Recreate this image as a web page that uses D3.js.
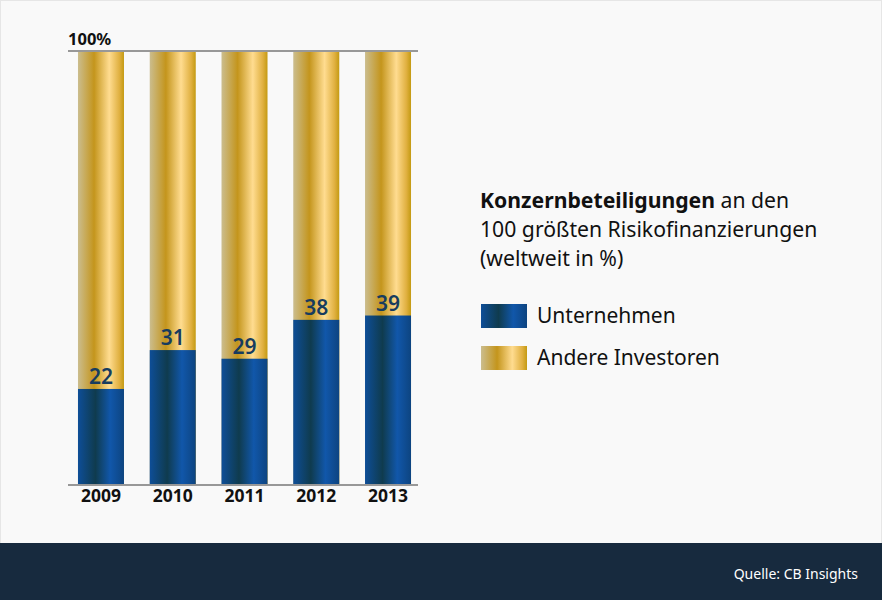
<!DOCTYPE html>
<html>
<head>
<meta charset="utf-8">
<script src="https://cdn.jsdelivr.net/npm/d3@7"></script>
<style>
  body { margin: 0; background: #fff; }
  svg { font-family: "Noto Sans", sans-serif; }
</style>
</head>
<body>
<div id="chart"></div>
<script>
var years = ["2009", "2010", "2011", "2012", "2013"];
var unternehmen = [22, 31, 29, 38, 39];
var legendLabels = ["Unternehmen", "Andere Investoren"];

var width = 882, height = 600;
var svg = d3.select('#chart').append('svg')
  .attr('width', width)
  .attr('height', height);

// gradients
var defs = svg.append('defs');
var blue = defs.append('linearGradient').attr('id', 'blue');
[[0, '#0e4e98'], [0.38, '#0f3b4e'], [0.7, '#1157aa'], [1, '#0d4480']].forEach(function (s) {
  blue.append('stop').attr('offset', s[0]).attr('stop-color', s[1]);
});
var gold = defs.append('linearGradient').attr('id', 'gold');
[[0, '#cbbd8e'], [0.35, '#c4951c'], [0.68, '#ffdc90'], [0.9, '#e0b040'], [1, '#c49a12']].forEach(function (s) {
  gold.append('stop').attr('offset', s[0]).attr('stop-color', s[1]);
});

svg.append('rect')
  .attr('x', 0.5).attr('y', 0.5)
  .attr('width', width - 1).attr('height', 543)
  .attr('fill', '#f9f9f9')
  .attr('stroke', '#e6e6e6');

svg.append('rect')
  .attr('x', 0).attr('y', 543)
  .attr('width', width).attr('height', height - 543)
  .attr('fill', '#172a3e');

svg.append('text')
  .attr('x', 858).attr('y', 579)
  .attr('text-anchor', 'end')
  .attr('fill', '#fff')
  .attr('font-size', 14)
  .text('Quelle: CB Insights');

var xScale = d3.scaleBand()
  .domain(years)
  .range([68, 421])
  .paddingInner(0.359)
  .paddingOuter(0.139);

var yScale = d3.scaleLinear()
  .domain([0, 100])
  .range([484, 52]);

var g = svg.append('g');

// gold (100%)
g.selectAll('.other')
  .data(years)
  .enter().append('rect')
  .attr('class', 'other')
  .attr('x', function (d) { return xScale(d); })
  .attr('y', yScale(100))
  .attr('width', xScale.bandwidth())
  .attr('height', yScale(0) - yScale(100))
  .attr('fill', 'url(#gold)');

g.selectAll('.corp')
  .data(unternehmen)
  .enter().append('rect')
  .attr('class', 'corp')
  .attr('x', function (d, i) { return xScale(years[i]); })
  .attr('y', function (d) { return yScale(d); })
  .attr('width', xScale.bandwidth())
  .attr('height', function (d) { return yScale(0) - yScale(d); })
  .attr('fill', 'url(#blue)');

g.selectAll('.val')
  .data(unternehmen)
  .enter().append('text')
  .attr('class', 'val')
  .attr('x', function (d, i) { return xScale(years[i]) + xScale.bandwidth() / 2; })
  .attr('y', function (d) { return yScale(d) - 5; })
  .attr('text-anchor', 'middle')
  .attr('fill', '#173c5e')
  .attr('font-size', 21)
  .attr('font-weight', 600)
  .text(function (d) { return d; });

// lines
[0, 100].forEach(function (v) {
  svg.append('line')
    .attr('x1', 68).attr('x2', 418)
    .attr('y1', yScale(v) + (v === 0 ? 1 : -1))
    .attr('y2', yScale(v) + (v === 0 ? 1 : -1))
    .attr('stroke', '#777')
    .attr('stroke-width', 1.5);
});

var xAxis = d3.axisBottom(xScale).tickSize(0).tickPadding(0);
svg.append('g')
  .attr('transform', 'translate(0,' + 490 + ')')
  .call(xAxis)
  .call(function (a) { a.select('.domain').remove(); })
  .selectAll('text')
  .attr('dy', '0.71em')
  .attr('font-family', '"Noto Sans", sans-serif')
  .attr('font-size', 17.5)
  .attr('font-weight', 'bold')
  .attr('fill', '#111');

svg.append('text')
  .attr('x', 68).attr('y', 45)
  .attr('font-size', 16.5)
  .attr('font-weight', 'bold')
  .attr('fill', '#111')
  .text('100%');

// title
var title = svg.append('text')
  .attr('x', 480)
  .attr('font-size', 21.2)
  .attr('fill', '#111');
var t1 = title.append('tspan').attr('x', 480).attr('y', 208);
t1.append('tspan').attr('font-weight', 'bold').text('Konzernbeteiligungen');
t1.append('tspan').text(' an den');
title.append('tspan').attr('x', 480).attr('y', 237).text('100 größten Risikofinanzierungen');
title.append('tspan').attr('x', 480).attr('y', 266).text('(weltweit in %)');

// legend
var legend = svg.selectAll('.legend')
  .data(legendLabels)
  .enter().append('g')
  .attr('class', 'legend')
  .attr('transform', function (d, i) { return 'translate(481,' + (304 + i * 42) + ')'; });
legend.append('rect')
  .attr('width', 46).attr('height', 24)
  .attr('fill', function (d, i) { return i === 0 ? 'url(#blue)' : 'url(#gold)'; });
legend.append('text')
  .attr('x', 56).attr('y', 19)
  .attr('font-size', 21)
  .attr('fill', '#111')
  .text(function (d) { return d; });
</script>
</body>
</html>
